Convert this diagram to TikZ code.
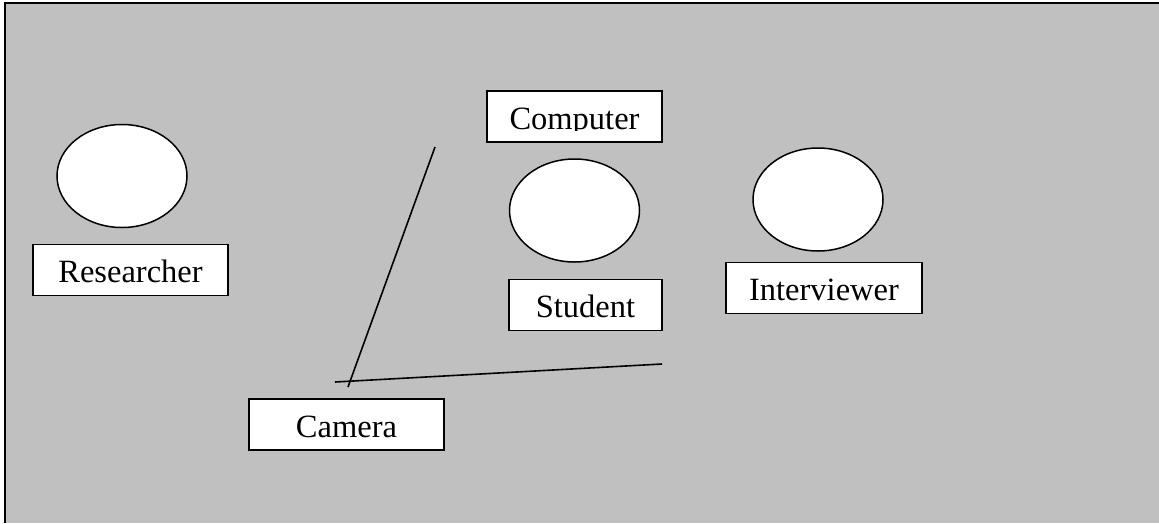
\documentclass[tikz,border=0pt]{standalone}
\usepackage{fontspec}
\setmainfont{Liberation Serif}
\usetikzlibrary{shapes.geometric}
\definecolor{floorgray}{RGB}{192,192,192}
\tikzset{
  person/.style={draw, ellipse, fill=white, line width=1.5pt, inner sep=0pt,
    minimum width=130pt, minimum height=103pt},
  rolebox/.style={draw, rectangle, fill=white, line width=1.5pt, inner sep=0pt,
    minimum height=51pt, text height=25pt, text depth=0pt,
    font=\fontsize{32.5}{36}\selectfont},
  sightline/.style={line width=1.6pt}
}
\begin{document}
\begin{tikzpicture}[x=1pt,y=-1pt]
\useasboundingbox (0,0) rectangle (1159,523);
\fill[floorgray] (5,3) rectangle (1159,523);
\draw[line width=2.2pt] (5,523) -- (5,3) -- (1159,3);
% people
\node[person] (researcherhead) at (122,176) {};
\node[person] (studenthead) at (574.5,210.5) {};
\node[person] (interviewerhead) at (818,199.5) {};
% name boxes
\node[rolebox, minimum width=195pt] (researcher) at (130.5,270) {Researcher};
\node[rolebox, minimum width=153pt] (student) at (585.5,305) {Student};
\node[rolebox, minimum width=196pt] (interviewer) at (824,288) {Interviewer};
\node[rolebox, minimum width=195pt] (camera) at (346.5,424.5) {Camera};
\node[rolebox, minimum width=175pt] (computer) at (574.5,116.5) {};
\begin{scope}
\clip (487,91) rectangle (662,130);
\node[rolebox, draw=none, fill=none] at (computer) {Computer};
\end{scope}
% camera view
\coordinate (viewtop) at (435,147);
\coordinate (viewfoot) at (348,387);
\coordinate (viewleft) at (335,382);
\coordinate (viewright) at (662,364);
\draw[sightline] (viewtop) -- (viewfoot);
\draw[sightline] (viewleft) -- (viewright);
\end{tikzpicture}
\end{document}
